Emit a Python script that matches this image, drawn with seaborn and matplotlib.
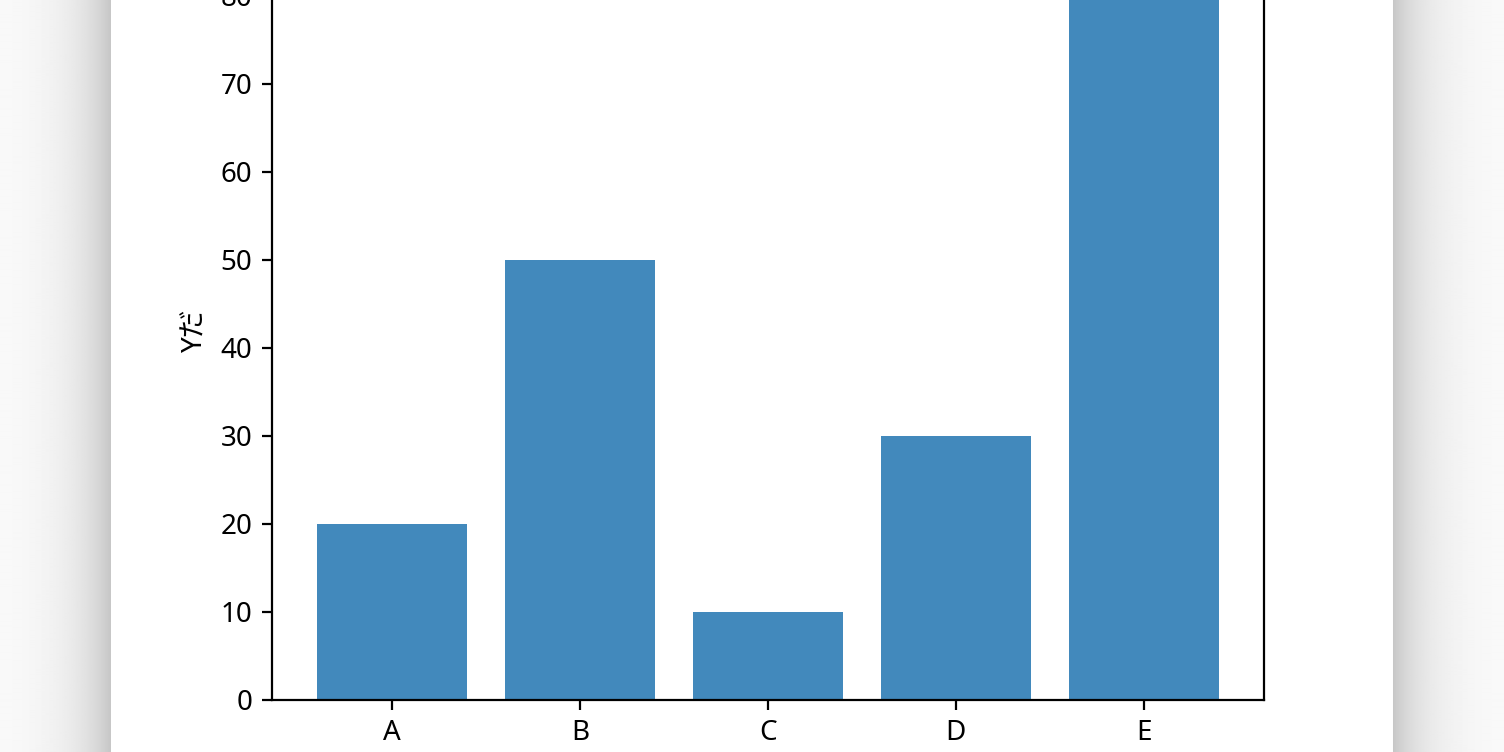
import numpy as np
import pandas as pd
import matplotlib
matplotlib.use("Agg")
import matplotlib.pyplot as plt
import seaborn as sns

# data
categories = ["A", "B", "C", "D", "E"]
values = [20, 50, 10, 30, 80]
y_label = "Yだ"

# latin glyphs from Noto Sans, kana falls back to the CJK family
plt.rcParams['font.family'] = ['Noto Sans', 'Noto Sans CJK JP', 'DejaVu Sans']
plt.rcParams['font.size'] = 10

df = pd.DataFrame({"cat": categories, "val": values})

fig = plt.figure(figsize=(7.52, 3.76), dpi=200)

# page with soft gray shadow on both sides (screenshot look)
W = 1504
px = np.arange(W)
shade = np.ones(W)
left_edge, right_edge = 111, 1392
d_left = (left_edge - px[px < left_edge]) / left_edge
shade[px < left_edge] = 0.985 - 0.21 * np.exp(-d_left * 3.2)
d_right = (px[px > right_edge] - right_edge) / (W - right_edge)
shade[px > right_edge] = 0.985 - 0.21 * np.exp(-d_right * 3.2)
bg = fig.add_axes([0, 0, 1, 1], zorder=-1)
bg.imshow(np.tile(shade, (10, 1)), cmap="gray", vmin=0, vmax=1, aspect="auto",
          interpolation="bilinear")
bg.axis("off")

# chart axes (top is cut off by the screenshot)
ax = fig.add_axes([272 / 1504, 52 / 752, 992 / 1504, 739.2 / 752])
sns.barplot(data=df, x="cat", y="val", color="#4289bc", saturation=1,
            width=0.8, ax=ax)
ax.set_xlim(-0.64, 4.64)
ax.set_ylim(0, 84)
ax.set_yticks(range(0, 90, 10))
ax.set_xlabel("")
ax.set_ylabel(y_label)

fig.savefig("out.png", dpi=200)
